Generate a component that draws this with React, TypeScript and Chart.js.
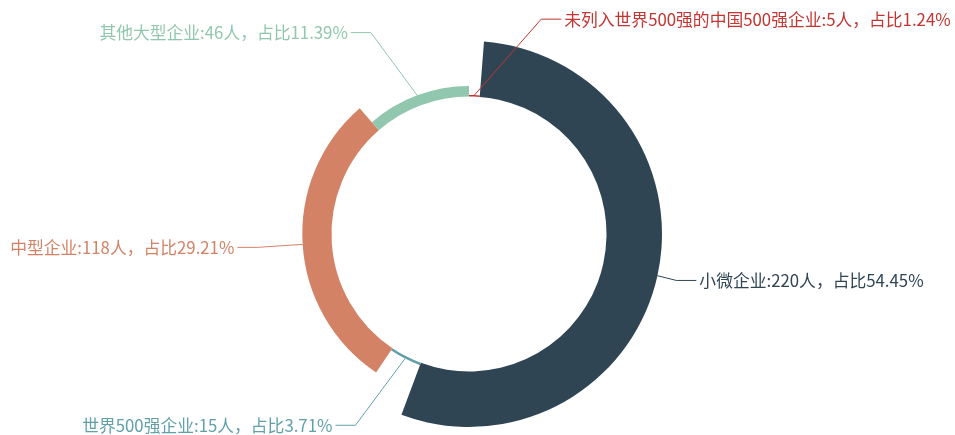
import React, { useEffect, useRef } from 'react';
import { Chart, registerables } from 'chart.js';

Chart.register(...registerables);

const categories = ['未列入世界500强的中国500强企业', '小微企业', '世界500强企业', '中型企业', '其他大型企业'];
const values = [5, 220, 15, 118, 46];
const percents = ['1.24', '54.45', '3.71', '29.21', '11.39'];
const colors = ['#c23531', '#2f4554', '#61a0a8', '#d48265', '#91c7ae'];
const unit = '人';

const FONT = '16.8px "Noto Sans CJK SC", "Microsoft YaHei", sans-serif';
const LINE_LEN = 22;
const LINE_LEN2 = 20;

const roseRadiusPlugin = {
  id: 'roseRadius',
  afterDatasetsUpdate(chart: any) {
    const meta = chart.getDatasetMeta(0);
    const ctrl: any = meta.controller;
    const vals: number[] = chart.data.datasets[0].data;
    const min = Math.min(...vals);
    const max = Math.max(...vals);
    const r0 = ctrl.innerRadius;
    const R = ctrl.outerRadius;
    meta.data.forEach((el: any, i: number) => {
      const t = max === min ? 1 : (vals[i] - min) / (max - min);
      el.innerRadius = r0;
      el.outerRadius = Math.max(r0 + (R - r0) * t, r0 + 1.5);
    });
  },
};

const labelPlugin = {
  id: 'roseLabels',
  afterDatasetsDraw(chart: any) {
    const meta = chart.getDatasetMeta(0);
    const ctrl: any = meta.controller;
    const R = ctrl.outerRadius;
    const ctx = chart.ctx;
    ctx.save();
    ctx.font = FONT;
    const items = meta.data.map((el: any, i: number) => {
      const mid = (el.startAngle + el.endAngle) / 2;
      const dx = Math.cos(mid);
      const dy = Math.sin(mid);
      const cx = el.x;
      const cy = el.y;
      const dir = dx < 0 ? -1 : 1;
      const text = `${categories[i]}:${values[i]}${unit}，占比${percents[i]}%`;
      return {
        i,
        cx,
        cy,
        dir,
        x0: cx + el.outerRadius * dx,
        y0: cy + el.outerRadius * dy,
        y: cy + dy * (R + LINE_LEN),
        x: cx + dx * (R + LINE_LEN) + dir * (LINE_LEN2 + 3),
        h: 18,
        text,
      };
    });
    const adjust = (list: any[], dir: number) => {
      list.sort((a, b) => a.y - b.y);
      let lastY = -Infinity;
      for (const it of list) {
        if (it.y - it.h / 2 < lastY) it.y = lastY + it.h / 2;
        lastY = it.y + it.h / 2;
      }
      if (!list.length) return;
      const cy = list[0].cy;
      const cx = list[0].cx;
      const up = list.filter((it) => it.y < cy);
      const down = list.filter((it) => it.y >= cy);
      const change = (arr: any[], isDown: boolean) => {
        let last = isDown ? Number.MAX_VALUE : 0;
        for (const it of arr) {
          const deltaY = Math.abs(it.y - cy);
          let deltaX =
            deltaY < R + LINE_LEN
              ? Math.sqrt((R + LINE_LEN + LINE_LEN2) ** 2 - deltaY ** 2)
              : Math.abs(it.x - cx);
          if (isDown && deltaX >= last) deltaX = last - 10;
          if (!isDown && deltaX <= last) deltaX = last + 10;
          it.x = cx + deltaX * dir;
          last = deltaX;
        }
      };
      change(up, false);
      change(down, true);
    };
    adjust(items.filter((it: any) => it.dir > 0), 1);
    adjust(items.filter((it: any) => it.dir < 0), -1);

    for (const it of items) {
      const color = colors[it.i];
      const p2x = it.x - it.dir * 3;
      const p1x = p2x - it.dir * LINE_LEN2;
      ctx.strokeStyle = color;
      ctx.lineWidth = 1;
      ctx.beginPath();
      ctx.moveTo(it.x0, it.y0);
      ctx.lineTo(p1x, it.y);
      ctx.lineTo(p2x, it.y);
      ctx.stroke();
      ctx.fillStyle = color;
      ctx.textBaseline = 'middle';
      ctx.textAlign = it.dir > 0 ? 'left' : 'right';
      ctx.fillText(it.text, it.x, it.y);
    }
    ctx.restore();
  },
};

export default function App() {
  const ref = useRef<HTMLCanvasElement | null>(null);
  useEffect(() => {
    if (!ref.current) return;
    const chart = new Chart(ref.current, {
      type: 'doughnut',
      data: {
        labels: categories,
        datasets: [
          {
            data: values,
            backgroundColor: colors,
            borderWidth: 0,
            hoverOffset: 0,
          },
        ],
      },
      options: {
        responsive: false,
        animation: false,
        cutout: (137.5 / 193) * 100 + '%',
        layout: { padding: { left: 276, right: 293, top: 41, bottom: 8 } },
        plugins: {
          legend: { display: false },
          tooltip: { enabled: false },
        },
        events: [],
      } as any,
      plugins: [roseRadiusPlugin, labelPlugin],
    });
    return () => chart.destroy();
  }, []);
  return (
    <div style={{ position: 'fixed', left: 0, top: 0, width: 955, height: 435, background: '#fff' }}>
      <canvas ref={ref} width={955} height={435} style={{ width: 955, height: 435 }} />
    </div>
  );
}
